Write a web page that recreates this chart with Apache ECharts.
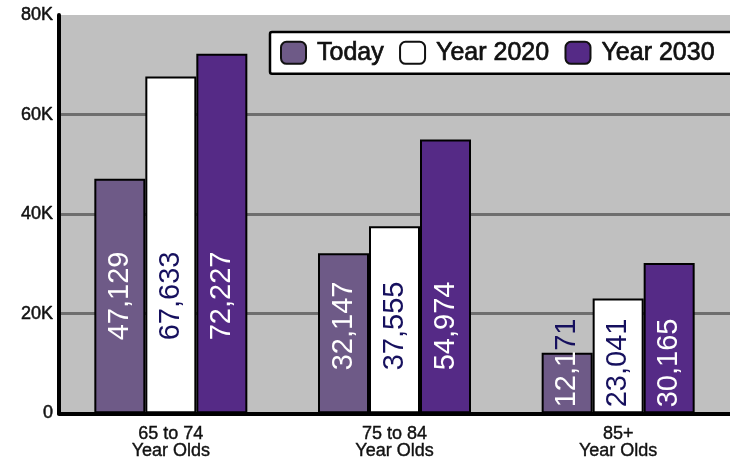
<!DOCTYPE html>
<html>
<head>
<meta charset="utf-8">
<script src="https://cdn.jsdelivr.net/npm/echarts@6/dist/echarts.min.js"></script>
<style>html,body{margin:0;padding:0;background:#fff}#c{width:730px;height:460px}</style>
</head>
<body>
<div id="c"></div>
<script>
var categories = ['65 to 74\nYear Olds', '75 to 84\nYear Olds', '85+\nYear Olds'];
var seriesNames = ['Today', 'Year 2020', 'Year 2030'];
var today = [47129, 32147, 12171];
var year2020 = [67633, 37555, 23041];
var year2030 = [72227, 54974, 30165];
var yTicks = [0, 20000, 40000, 60000, 80000];

var labelDistances = [73, 43, 6];
var fills = ['#6e5a87', '#ffffff', '#552a86'];
var labelColors = ['#ffffff', '#16105e', '#ffffff'];
var font = '"Liberation Sans", Arial, sans-serif';

function fmt(v) { return v.toLocaleString('en-US'); }

function makeSeries(name, values, idx) {
  return {
    name: name,
    type: 'bar',
    barWidth: 51,
    barGap: '0%',
    itemStyle: { color: fills[idx], borderColor: '#000', borderWidth: 2 },
    label: {
      show: true,
      position: 'insideBottom',
      rotate: 90,
      align: 'left',
      verticalAlign: 'middle',
      fontFamily: font,
      fontSize: 29,
      color: labelColors[idx],
      formatter: function (p) {
        var s = fmt(p.value);
        // part of the label that runs above a short bar is drawn in the dark colour
        if (idx === 0 && p.dataIndex === 2) {
          return '{w|' + s.slice(0, 4) + '}{n|' + s.slice(4) + '}';
        }
        return s;
      },
      rich: {
        w: { color: '#ffffff', fontSize: 29, fontFamily: font },
        n: { color: '#16105e', fontSize: 29, fontFamily: font }
      }
    },
    data: values.map(function (v, i) {
      return { value: v, label: { distance: labelDistances[i] } };
    })
  };
}

var chart = echarts.init(document.getElementById('c'), null, { renderer: 'canvas' });
chart.setOption({
  animation: false,
  backgroundColor: '#ffffff',
  grid: {
    left: 59, top: 15, width: 674, bottom: 46,
    show: true, backgroundColor: '#c0c0c0', borderWidth: 0
  },
  legend: {
    left: 270, top: 32,
    width: 540,
    data: seriesNames,
    icon: 'roundRect',
    itemWidth: 25, itemHeight: 22,
    itemGap: 15,
    backgroundColor: '#ffffff',
    borderColor: '#000000',
    borderWidth: 2.5,
    borderRadius: 2,
    padding: [8, 40, 8, 10],
    itemStyle: { borderColor: '#111', borderWidth: 2 },
    textStyle: {
      fontFamily: font, fontSize: 25, color: '#111', padding: [0, 0, 0, 6],
      textBorderColor: '#111', textBorderWidth: 0.7
    },
    selectedMode: false
  },
  xAxis: {
    type: 'category',
    data: categories,
    axisLine: { show: true, lineStyle: { color: '#000', width: 4 } },
    axisTick: { show: false },
    axisLabel: {
      fontFamily: font, fontSize: 18, lineHeight: 17, color: '#111', margin: 12,
      textBorderColor: '#111', textBorderWidth: 0.4
    }
  },
  yAxis: {
    type: 'value',
    min: yTicks[0], max: yTicks[yTicks.length - 1], interval: yTicks[1] - yTicks[0],
    axisLine: { show: true, lineStyle: { color: '#000', width: 4 } },
    axisTick: { show: false },
    splitLine: {
      show: true,
      lineStyle: { color: ['#6e6e6e', '#6e6e6e', '#6e6e6e', '#6e6e6e', 'rgba(0,0,0,0)'], width: 3 }
    },
    axisLabel: {
      fontFamily: font, fontSize: 18, color: '#111', margin: 6,
      textBorderColor: '#111', textBorderWidth: 0.5,
      formatter: function (v) { return v === 0 ? '0' : (v / 1000) + 'K'; }
    }
  },
  series: [
    makeSeries(seriesNames[0], today, 0),
    makeSeries(seriesNames[1], year2020, 1),
    makeSeries(seriesNames[2], year2030, 2)
  ]
});
</script>
</body>
</html>
